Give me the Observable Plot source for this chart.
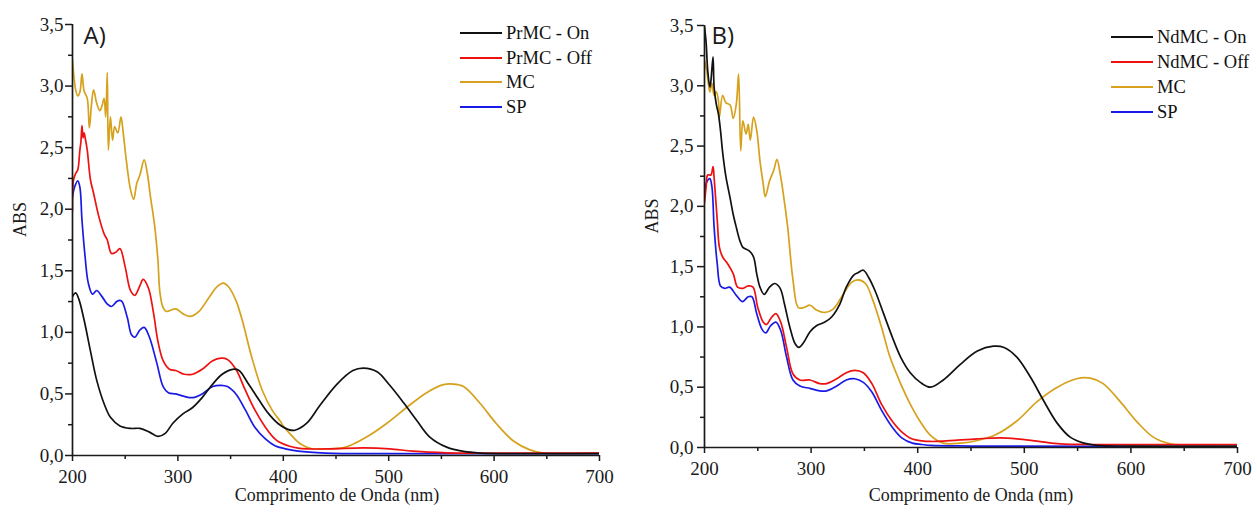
<!DOCTYPE html>
<html><head><meta charset="utf-8">
<script src="https://cdn.jsdelivr.net/npm/d3@7"></script>
<script src="https://cdn.jsdelivr.net/npm/@observablehq/plot@0.6"></script>
<style>
body{margin:0;background:#fff;width:1257px;height:512px;overflow:hidden;position:relative;font-family:"Liberation Serif",serif}
.panel{position:absolute;top:0;height:512px}
.panel svg text{font-family:"Liberation Serif",serif}
.panel svg g.tag text{font-family:"Open Sans",sans-serif}
.legend{position:absolute;left:0;top:0;font-family:"Liberation Serif",serif;font-size:18.5px;color:#111}
.row{position:absolute;height:22px;display:flex;align-items:center;white-space:nowrap;line-height:22px}
.sw{width:42px;height:2px;margin-right:4px}
</style></head><body>
<div id="A" class="panel" style="left:0;width:628px"></div>
<div id="B" class="panel" style="left:630px;width:627px"></div>
<script>
// ---- data (wavelength nm, absorbance) ----
const namesA = ["PrMC - On", "PrMC - Off", "MC", "SP"];
const namesB = ["NdMC - On", "NdMC - Off", "MC", "SP"];
const colors = ["#111111", "#ee1111", "#d6a11c", "#1a1ae6"];
const xMajor = [200, 300, 400, 500, 600, 700];
const xMinor = [250, 350, 450, 550, 650];
const yMajor = [0, 0.5, 1, 1.5, 2, 2.5, 3, 3.5];
const yMinor = [0.25, 0.75, 1.25, 1.75, 2.25, 2.75, 3.25];

const prOn = [[200,1.29],[203,1.32],[206,1.27],[211,1.10],[217,0.85],[223,0.61],[230,0.42],[236,0.31],[245,0.24],[255,0.22],[264,0.22],[273,0.19],[281,0.155],[288,0.18],[295,0.26],[305,0.34],[314,0.39],[323,0.47],[333,0.58],[342,0.66],[352,0.70],[358,0.69],[367,0.58],[377,0.45],[386,0.34],[395,0.26],[405,0.21],[411,0.205],[422,0.26],[435,0.41],[451,0.58],[466,0.69],[476,0.71],[489,0.68],[501,0.57],[514,0.43],[527,0.28],[539,0.15],[555,0.068],[571,0.033],[587,0.02],[620,0.015],[660,0.015],[700,0.015]];
const prOff = [[200,1.99],[201,2.24],[203,2.29],[205,2.32],[207,2.48],[208,2.55],[209,2.68],[210,2.58],[211,2.62],[212,2.58],[214,2.48],[217,2.24],[220,2.13],[225,1.94],[230,1.80],[233,1.75],[237,1.64],[241,1.65],[245,1.68],[250,1.53],[255,1.34],[259,1.30],[264,1.38],[267,1.43],[272,1.36],[277,1.15],[281,0.93],[286,0.77],[292,0.70],[298,0.69],[306,0.66],[314,0.66],[323,0.70],[333,0.77],[341,0.79],[347,0.78],[355,0.70],[364,0.53],[373,0.37],[383,0.23],[392,0.135],[397,0.105],[406,0.075],[414,0.06],[422,0.054],[444,0.054],[476,0.062],[501,0.054],[523,0.035],[555,0.022],[600,0.02],[700,0.02]];
const mcA = [[200,3.21],[203,2.97],[205,2.92],[207,2.95],[209,3.10],[211,2.96],[214,2.90],[216,2.66],[218,2.85],[220,2.97],[223,2.86],[226,2.80],[228,2.84],[230,2.90],[231.5,2.75],[233,3.11],[234,2.48],[236,2.75],[238,2.56],[240,2.67],[243,2.62],[246,2.75],[248,2.63],[251,2.40],[255,2.16],[258,2.08],[261,2.21],[264,2.28],[268,2.40],[271,2.29],[274,2.10],[278,1.86],[281,1.59],[283,1.32],[286,1.20],[289,1.17],[298,1.19],[305,1.15],[312,1.13],[320,1.17],[330,1.29],[337,1.37],[343,1.40],[348,1.37],[355,1.26],[361,1.10],[370,0.80],[380,0.53],[390,0.36],[397,0.28],[400,0.24],[406,0.18],[416,0.095],[427,0.055],[444,0.054],[460,0.07],[479,0.15],[498,0.26],[517,0.39],[536,0.51],[552,0.575],[561,0.58],[571,0.56],[587,0.42],[602,0.26],[618,0.12],[634,0.046],[647,0.02],[700,0.02]];
const spA = [[200,2.10],[202,2.18],[205,2.23],[207,2.18],[209,1.91],[212,1.61],[215,1.40],[219,1.31],[223,1.34],[228,1.29],[233,1.23],[237,1.21],[242,1.25],[245,1.26],[247,1.25],[252,1.12],[256,0.98],[259,0.96],[264,1.02],[268,1.04],[273,0.96],[280,0.75],[286,0.56],[291,0.51],[298,0.50],[306,0.48],[314,0.47],[323,0.50],[333,0.56],[341,0.57],[347,0.56],[355,0.50],[364,0.37],[373,0.23],[383,0.135],[392,0.08],[402,0.054],[414,0.035],[440,0.02],[500,0.015],[700,0.015]];

const ndOn = [[200,3.49],[201.5,3.36],[203,3.13],[205,2.99],[206,3.04],[208,3.24],[209,2.99],[211,2.85],[213,2.77],[215,2.63],[217,2.45],[220,2.25],[224,2.07],[227,1.93],[230,1.82],[233,1.72],[236,1.66],[242,1.63],[246,1.58],[249,1.44],[252,1.33],[256,1.27],[261,1.33],[266,1.36],[271,1.32],[275,1.19],[280,1.00],[285,0.86],[288.5,0.83],[293,0.87],[299,0.96],[305,1.01],[313,1.04],[319,1.08],[327,1.19],[333,1.33],[340,1.43],[344,1.45],[349,1.47],[354,1.41],[360,1.30],[368,1.11],[376,0.92],[384,0.75],[393,0.62],[402.5,0.54],[412,0.50],[424,0.56],[440,0.69],[456,0.80],[471,0.84],[481,0.83],[493,0.75],[506,0.58],[518,0.39],[531,0.20],[543,0.086],[556,0.036],[568,0.017],[600,0.012],[700,0.01]];
const ndOff = [[200,2.03],[201.5,2.16],[203,2.26],[206,2.26],[208,2.33],[209,2.24],[212,1.88],[214,1.66],[217,1.58],[222,1.52],[227,1.44],[231,1.33],[236,1.32],[241,1.34],[245.5,1.33],[250,1.16],[255,1.04],[258,1.02],[263,1.08],[267,1.11],[271.5,1.04],[277,0.83],[283,0.61],[289.5,0.56],[299,0.56],[308,0.53],[314.5,0.53],[324,0.57],[333,0.62],[341,0.64],[349,0.62],[357,0.53],[366,0.36],[376,0.22],[385,0.13],[395,0.07],[404,0.055],[412,0.05],[424,0.053],[456,0.072],[477,0.08],[493,0.072],[512,0.053],[534,0.03],[565,0.025],[700,0.025]];
const mcB = [[200,3.21],[202,3.13],[205,2.95],[207,3.02],[209,2.92],[211,2.95],[213,2.88],[214,2.74],[217,2.92],[220,2.86],[224,2.84],[227,2.73],[230,2.86],[232,3.10],[234,2.46],[236,2.71],[239,2.60],[241,2.68],[243,2.55],[246,2.74],[249,2.63],[252,2.38],[255,2.19],[257,2.08],[261,2.21],[265,2.30],[268,2.39],[271,2.27],[274,2.10],[278,1.83],[283,1.39],[288,1.16],[293,1.16],[299,1.18],[305,1.14],[313,1.12],[321,1.15],[330,1.27],[338,1.37],[344,1.39],[351,1.36],[358,1.22],[366,1.00],[374,0.75],[384,0.53],[393,0.36],[402,0.22],[412,0.10],[424,0.036],[440,0.036],[456,0.058],[474,0.11],[493,0.22],[512,0.38],[531,0.50],[549,0.57],[562,0.575],[574,0.53],[590,0.38],[606,0.21],[621,0.086],[637,0.03],[649,0.02],[700,0.02]];
const spB = [[200,2.13],[202,2.20],[205,2.23],[207,2.16],[209,1.83],[212,1.52],[215,1.34],[219,1.32],[223.5,1.33],[230,1.26],[235.5,1.21],[241,1.25],[244.5,1.25],[249,1.11],[254,0.98],[257.5,0.95],[262,1.01],[267,1.04],[271.5,0.97],[277,0.75],[283,0.56],[289.5,0.51],[299,0.49],[308,0.47],[314.5,0.47],[324,0.51],[333,0.56],[341,0.57],[349,0.54],[357,0.46],[366,0.31],[376,0.17],[385,0.08],[395,0.036],[404,0.025],[412,0.017],[450,0.012],[700,0.01]];

const xTitle = "Comprimento de Onda (nm)";
const yTitle = "ABS";

// ---- drawing ----
const fmtY = d => d.toFixed(1).replace(".", ",");
const SERIF = "Liberation Serif, serif";

function draw(cfg) {
  const data = cfg.series.flatMap((vals, i) => vals.map(([nm, abs]) => ({nm, abs, name: cfg.names[i]})));
  const drawOrder = [2, 3, 1, 0].map(i => cfg.names[i]);
  const ax = {fontFamily: SERIF, fontSize: 19, label: null, strokeWidth: 1.5};
  const plot = Plot.plot({
    width: cfg.width, height: 512,
    marginLeft: cfg.ml, marginRight: cfg.mr, marginTop: cfg.mt, marginBottom: cfg.mb,
    style: {fontFamily: SERIF, fontSize: "19px", color: "#1a1a1a", background: "transparent"},
    x: {domain: [200, 700]},
    y: {domain: [0, 3.5]},
    color: {domain: cfg.names, range: colors},
    marks: [
      Plot.line(data, {x: "nm", y: "abs", z: "name", stroke: "name", strokeWidth: 1.7,
        curve: "catmull-rom", clip: true,
        sort: (a, b) => drawOrder.indexOf(a.name) - drawOrder.indexOf(b.name) || a.nm - b.nm}),
      Plot.axisX(xMajor, {...ax, tickSize: 6, tickPadding: 8, tickFormat: d => String(d)}),
      Plot.axisX(xMinor, {...ax, tickSize: 4, tickFormat: () => ""}),
      Plot.axisY(yMajor, {...ax, tickSize: 7, tickPadding: cfg.yPad, tickFormat: fmtY}),
      Plot.axisY(yMinor, {...ax, tickSize: 4, tickFormat: () => ""}),
      Plot.ruleX([200], {stroke: "#1a1a1a", strokeWidth: 1.7}),
      Plot.ruleY([0], {stroke: "#1a1a1a", strokeWidth: 1.7}),
      Plot.text([yTitle], {frameAnchor: "left", rotate: -90, dx: -52, dy: -3, fontSize: 18, fontFamily: SERIF}),
      Plot.text([xTitle], {frameAnchor: "bottom", dx: cfg.xtDx, dy: cfg.xtDy, fontSize: 18, fontFamily: SERIF}),
      Plot.text([cfg.tag], {frameAnchor: "top-left", textAnchor: "start", lineAnchor: "top", className: "tag",
        dx: cfg.tagDx, dy: cfg.tagDy, fontFamily: "Open Sans, sans-serif", fontSize: 24})
    ]
  });
  const el = document.getElementById(cfg.id);
  el.appendChild(plot);
  const leg = document.createElement("div");
  leg.className = "legend";
  cfg.names.forEach((n, i) => {
    const r = document.createElement("div");
    r.className = "row";
    r.style.top = (cfg.legTop + i * cfg.legStep) + "px";
    r.style.left = cfg.legLeft + "px";
    const sw = document.createElement("span");
    sw.className = "sw";
    sw.style.background = colors[i];
    const t = document.createElement("span");
    t.textContent = n;
    r.appendChild(sw); r.appendChild(t);
    leg.appendChild(r);
  });
  el.appendChild(leg);
}

draw({id: "A", names: namesA, series: [prOn, prOff, mcA, spA], tag: "A)",
  width: 628, ml: 72, mr: 29, mt: 24, mb: 57, yPad: 2,
  xtDx: 1, xtDy: 45, tagDx: 11, tagDy: 2,
  legTop: 22, legStep: 24.7, legLeft: 460});
draw({id: "B", names: namesB, series: [ndOn, ndOff, mcB, spB], tag: "B)",
  width: 627, ml: 74, mr: 20, mt: 25, mb: 65, yPad: 4,
  xtDx: 0, xtDy: 53, tagDx: 7, tagDy: 1,
  legTop: 26, legStep: 25, legLeft: 481});
</script>
</body></html>
